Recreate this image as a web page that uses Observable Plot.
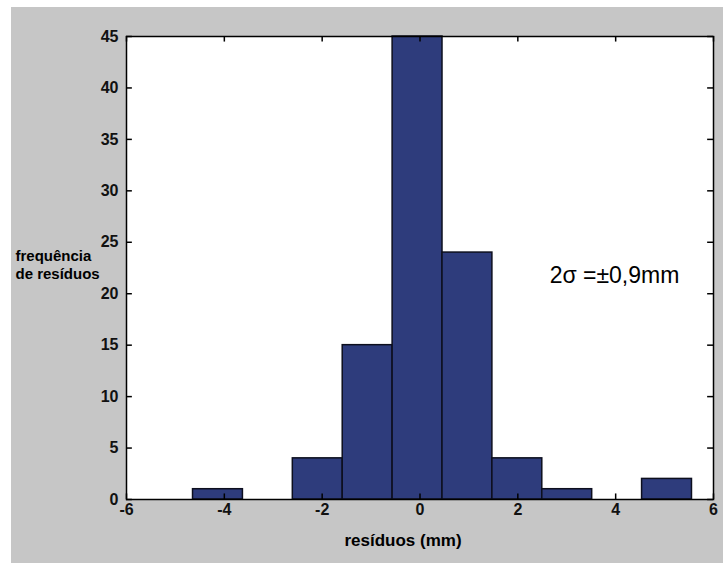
<!DOCTYPE html>
<html>
<head>
<meta charset="utf-8">
<script src="https://cdn.jsdelivr.net/npm/d3@7"></script>
<script src="https://cdn.jsdelivr.net/npm/@observablehq/plot@0.6"></script>
<style>
  html, body { margin: 0; padding: 0; background: #ffffff; }
  #wrap { position: relative; width: 723px; height: 563px; overflow: hidden; }
  #bg { position: absolute; left: 11px; top: 7px; right: 0; bottom: 0; background-color: #c6c6c6; }
  #chart { position: absolute; left: 0; top: 0; }
  #chart svg { background: transparent !important; }
</style>
</head>
<body>
<div id="wrap"><div id="bg"></div><div id="chart"></div></div>
<script>
// Histogram bin edges (resíduos, mm) and counts
const binEdges = [-4.64, -3.62, -2.60, -1.58, -0.56, 0.46, 1.48, 2.50, 3.52, 4.54, 5.56];
const counts   = [1, 0, 4, 15, 45, 24, 4, 1, 0, 2];
const xTicks = [-6, -4, -2, 0, 2, 4, 6];
const yTicks = [0, 5, 10, 15, 20, 25, 30, 35, 40, 45];
const yLabel = "frequência\nde resíduos";
const xLabel = "resíduos (mm)";
const annotation = "2σ =±0,9mm";
const annotationPos = {x: 2.65, y: 21.8};

const bins = counts.map((c, i) => ({x1: binEdges[i], x2: binEdges[i + 1], count: c})).filter(d => d.count > 0);

const fmt = d => String(d);
const font = "Arial, 'Liberation Sans', Helvetica, sans-serif";
const xMin = xTicks[0], xMax = xTicks[xTicks.length - 1];
const yMin = yTicks[0], yMax = yTicks[yTicks.length - 1];
// inward tick length, expressed in data units (about 5-6 px)
const tickLenX = (xMax - xMin) * 0.01;
const tickLenY = (yMax - yMin) * 0.012;
const tickStyle = {stroke: "black", strokeWidth: 1.5};

const chart = Plot.plot({
  width: 723,
  height: 563,
  marginLeft: 126,
  marginRight: 10,
  marginTop: 36,
  marginBottom: 64,
  style: {background: "transparent", fontFamily: font, fontSize: "16px", color: "#111"},
  x: {domain: [xMin, xMax]},
  y: {domain: [yMin, yMax]},
  marks: [
    Plot.frame({fill: "white", stroke: null}),
    Plot.rectY(bins, {x1: "x1", x2: "x2", y1: 0, y2: "count", fill: "#2e3c7c", stroke: "#0d0f1e", strokeWidth: 1.5}),
    // inward tick marks on all four sides
    Plot.ruleY(yTicks, {y: d => d, x1: () => xMin, x2: () => xMin + tickLenX, ...tickStyle}),
    Plot.ruleY(yTicks, {y: d => d, x1: () => xMax - tickLenX, x2: () => xMax, ...tickStyle}),
    Plot.ruleX(xTicks, {x: d => d, y1: () => yMin, y2: () => yMin + tickLenY, ...tickStyle}),
    Plot.ruleX(xTicks, {x: d => d, y1: () => yMax - tickLenY, y2: () => yMax, ...tickStyle}),
    // tick labels
    Plot.axisX(xTicks, {anchor: "bottom", tickSize: 0, tickPadding: 4, tickFormat: fmt, label: null, fontSize: 16, fontWeight: "bold"}),
    Plot.axisY(yTicks, {anchor: "left", tickSize: 0, tickPadding: 8, tickFormat: fmt, label: null, fontSize: 16, fontWeight: "bold"}),
    Plot.frame({stroke: "black", strokeWidth: 1.5}),
    Plot.text([yLabel], {frameAnchor: "left", dx: -111, dy: -3.5, textAnchor: "start", fontWeight: "bold", fontSize: 15, lineHeight: 1.2, fill: "black"}),
    Plot.text([xLabel], {frameAnchor: "bottom", dx: -17, dy: 46, fontWeight: "bold", fontSize: 17, fill: "black"}),
    Plot.text([annotation], {x: () => annotationPos.x, y: () => annotationPos.y, textAnchor: "start", fontSize: 23, fill: "black"})
  ]
});
document.getElementById("chart").appendChild(chart);
</script>
</body>
</html>
